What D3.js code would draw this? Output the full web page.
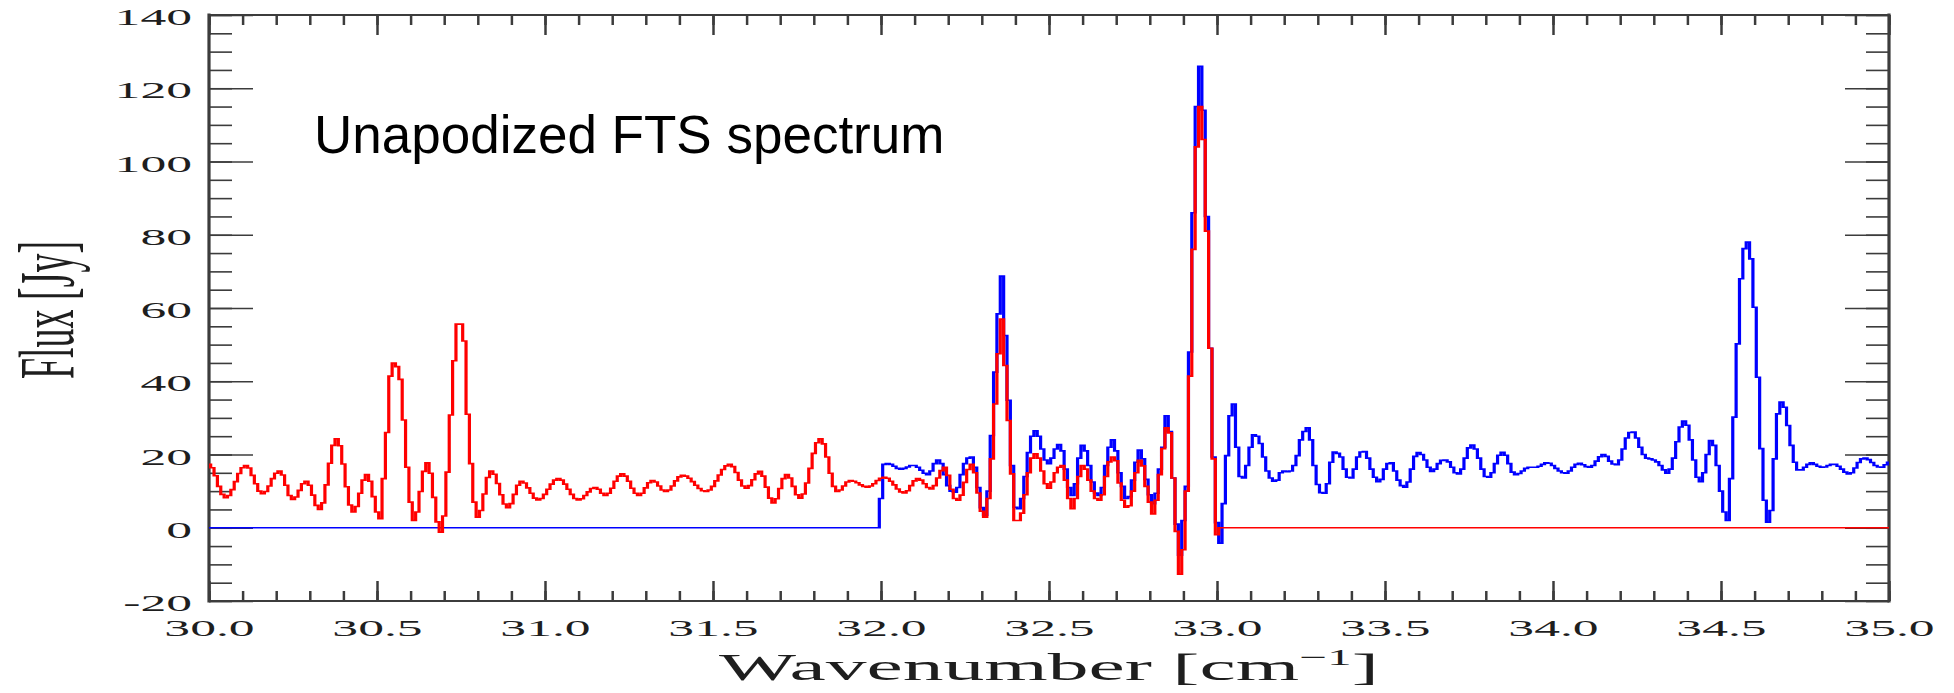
<!DOCTYPE html>
<html><head><meta charset="utf-8">
<script src="https://cdn.jsdelivr.net/npm/d3@7"></script>
<style>html,body{margin:0;padding:0;background:#fff;overflow:hidden} svg{display:block}</style>
</head><body>
<svg id="chart" width="1954" height="693"></svg>
<script>
// ---------------- data ----------------
const STEP = 0.01;                 // cm^-1 sampling of both spectra
const redStart = 30.00;            // first red sample
const redFlux = [
 17.3,16.4,14.2,11.3,9.1,8.2,8.8,10.4,12.6,14.8,
 16.4,17,16.3,14.3,12.0,10.0,9.3,9.9,11.4,13.4,
 14.9,15.5,14.4,11.6,8.8,7.7,8.4,10.2,12.0,12.7,
 11.6,8.9,6.1,5,6.8,11.7,17.6,22.5,24.3,22.4,
 17.4,11.2,6.2,4.3,5.8,9.4,13.0,14.5,12.7,8.5,
 4.3,2.5,13.4,26,41.4,45,44,40.5,29.4,16.5,
 7,2,4.3,9.9,15.4,17.7,14.9,8.3,1.6,-1.2,
 3.2,15.2,30.8,45.6,55.6,55.6,51,31,17.5,7,
 2.9,4.7,9.2,13.7,15.5,14.6,12.1,9.0,6.5,5.5,
 6.6,9.1,11.6,12.7,12.2,10.9,9.4,8.1,7.6,8.0,
 9.1,10.5,11.9,13.0,13.4,13.0,11.9,10.5,9.1,8.0,
 7.6,7.9,8.8,9.8,10.7,11,10.5,9.4,8.8,9.4,
 10.8,12.7,14.1,14.7,14.1,12.7,10.8,9.4,8.8,9.4,
 10.9,12.3,12.9,12.5,11.4,10.3,9.9,10.3,11.4,12.8,
 13.9,14.3,14.1,13.5,12.6,11.6,10.7,10.1,9.9,10.3,
 11.3,12.8,14.4,15.9,16.9,17.3,16.7,15.1,13.0,11.4,
 10.8,11.5,13.1,14.7,15.4,14.1,11.1,8.1,6.8,7.9,
 10.7,13.4,14.5,13.6,11.3,9.0,8.1,9.2,12.2,16.2,
 20.3,23.2,24.3,22.9,19.3,14.9,11.3,9.9,10.3,11.4,
 12.5,12.9,12.7,12.3,11.7,11.3,11.1,11.4,12.0,12.9,
 13.5,13.8,13.5,12.7,11.7,10.6,9.8,9.5,10.1,11.5,
 12.8,13.4,13.0,12.0,11.0,10.6,11.5,13.6,15.6,16.5,
 14.3,10.5,8,7.5,8.9,12.4,15.9,17.3,15,9.5,
 4.5,2.9,8,18.8,33.8,47.5,57,44.3,29.3,14.7,
 2,2,4,9,15,19,20.2,19,15.5,12,
 10.8,12.5,15,16.5,17,13,8,5.2,8,14,
 17,16,13,10,8,7.5,9,14,18,19.3,
 18.3,12.2,7.5,5.6,6,10,15,18.4,16.9,11.3,
 7,3.8,7.5,14.5,21.6,27.3,25.9,13.6,-1,-12.7,
 -6,10,41.4,76,104,115,106,81,49,18.8,
 -1.9
];
const redTail = [[33.01, 0], [35.00, 0]];   // red spectrum is zero beyond its band

const blueStart = 32.00;
const blueFlux = [
 8,17.3,17.5,17.3,16.8,16.2,16,16.2,16.6,17,
 17,16.5,15.7,14.9,14.5,15.5,17.5,18.5,17.5,14.5,
 11.5,10,9.7,11,14.5,17.5,19,19.3,16.5,11,
 5.5,3.4,10,25.2,42.5,58.4,68.7,52.5,34.8,17,
 5.6,5.2,8,14,20.5,25,26.5,25,21.5,18.5,
 17.5,19,21.5,22.7,21,16,11,8.8,12,19,
 22.5,21,17,12.5,9.5,8.8,11,17,22,24,
 21,15,11.3,8,8.5,13,17.9,21.2,18.8,13.2,
 9,6.6,9.4,16,22,30.6,26.3,13.6,1,-7.5,
 2,11.3,48,86,115,126,114,85,49,19.3,
 1.4,-4.2,6.6,19.7,30.6,33.8,22,14,13.6,17,
 22,25.4,25,23,19.3,15.5,13.6,12.7,13,15,
 15.5,15.3,15.5,17,19.7,24,26.3,27.3,24,17,
 11.8,9.6,9.4,12,17.9,20.7,20.3,19.3,16,13.8,
 13.6,16,19.3,20.7,20.8,19,16,13.8,12.6,13.2,
 16,17.5,17.7,15.5,13,11.5,11.1,12.5,16,19.5,
 20.5,20,18.5,16.5,15.4,16,17.5,18.4,18.5,18,
 16.5,15,14.7,16,19,21.8,22.6,21.5,19,16,
 14,13.8,15,17.5,19.8,20.6,19.8,17.5,15.2,14.5,
 14.8,15.5,16.2,16.5,16.5,16.5,16.8,17.3,17.7,17.6,
 17,16.2,15.5,15,14.9,15.5,16.5,17.3,17.6,17.2,
 16.7,16.5,17,18.2,19.4,20,19.5,18.2,17.4,17.2,
 18.5,21.5,24.5,26,26.1,24.5,22,20,19,18.8,
 18.5,18,17,15.8,14.9,16,19,23.5,27.5,29.1,
 28,24,18.5,13.8,12.6,15,20,23.8,22.5,17,
 10,4.3,2,13.4,30.2,50.2,68,76.2,78,73.4,
 60.2,41.1,21.6,7.5,1.5,4.7,18.8,31.1,34.3,32.9,
 27.9,22.5,17.9,15.8,15.8,16.5,17.3,17.7,17.3,16.8,
 16.5,16.6,17,17.3,17.3,16.8,16,15.2,14.7,15,
 16.3,17.8,18.8,19,18.6,17.8,17,16.6,16.5,17.2,
 17.9
];
const blueHead = [[30.00, 0], [31.99, 0]];  // blue spectrum is zero below its band

const xDomain = [30, 35];
const yDomain = [-20, 140];
const xMajorTicks = [30.0, 30.5, 31.0, 31.5, 32.0, 32.5, 33.0, 33.5, 34.0, 34.5, 35.0];
const yMajorTicks = [-20, 0, 20, 40, 60, 80, 100, 120, 140];
const titleText = "Unapodized FTS spectrum";
const xTitle = "Wavenumber [cm";
const yTitle = "Flux [Jy]";

// ---------------- layout ----------------
const L = 209, R = 1889, T = 15, B = 601;
const AX = "#3c3c3c", TXT = "#1e1e1e";
const SERIF = "'Liberation Serif','Times New Roman',serif";
const SX = 2.15;   // horizontal stretch of the serif lettering
const HS = 2.0;    // horizontal stretch of the drawn lines (vertical strokes thicker)

const svg = d3.select("#chart");
const x = d3.scaleLinear().domain(xDomain).range([L, R]);
const y = d3.scaleLinear().domain(yDomain).range([B, T]);

function styleAxis(w) {
  return g => {
    g.select(".domain").remove();
    g.selectAll(".tick line").attr("stroke", AX).attr("stroke-width", w);
    g.attr("font-family", SERIF).attr("font-size", 24);
  };
}

// minor ticks
svg.append("g").attr("transform", `translate(0,${B})`)
  .call(d3.axisBottom(x).ticks(50).tickSize(-10).tickFormat("")).call(styleAxis(2.5));
svg.append("g").attr("transform", `translate(0,${T})`)
  .call(d3.axisTop(x).ticks(50).tickSize(-10).tickFormat("")).call(styleAxis(2.5));
svg.append("g").attr("transform", `translate(${L},0)`)
  .call(d3.axisLeft(y).ticks(32).tickSize(-23).tickFormat("")).call(styleAxis(1.6));
svg.append("g").attr("transform", `translate(${R},0)`)
  .call(d3.axisRight(y).ticks(32).tickSize(-23).tickFormat("")).call(styleAxis(1.6));

// major ticks + labels
const xb = svg.append("g").attr("transform", `translate(0,${B})`)
  .call(d3.axisBottom(x).tickValues(xMajorTicks).tickSize(-20).tickFormat(d => d.toFixed(1)))
  .call(styleAxis(2.5));
xb.selectAll(".tick text").attr("y", 0).attr("dy", 0).attr("fill", TXT)
  .attr("transform", `translate(0,35) scale(${SX},1)`);
svg.append("g").attr("transform", `translate(0,${T})`)
  .call(d3.axisTop(x).tickValues(xMajorTicks).tickSize(-20).tickFormat("")).call(styleAxis(2.5));
const yl = svg.append("g").attr("transform", `translate(${L},0)`)
  .call(d3.axisLeft(y).tickValues(yMajorTicks).tickSize(-44).tickFormat(d => String(d)))
  .call(styleAxis(1.6));
yl.selectAll(".tick text").attr("x", 0).attr("dy", 0).attr("fill", TXT)
  .attr("transform", `translate(-17,9.5) scale(${SX},1)`);
svg.append("g").attr("transform", `translate(${R},0)`)
  .call(d3.axisRight(y).tickValues(yMajorTicks).tickSize(-44).tickFormat("")).call(styleAxis(1.6));

// frame: vertical sides heavier than horizontal ones
const frame = svg.append("g").attr("stroke", AX).attr("stroke-linecap", "square");
frame.append("line").attr("x1", L).attr("x2", R).attr("y1", T).attr("y2", T).attr("stroke-width", 2);
frame.append("line").attr("x1", L).attr("x2", R).attr("y1", B).attr("y2", B).attr("stroke-width", 2);
frame.append("line").attr("x1", L).attr("x2", L).attr("y1", T).attr("y2", B).attr("stroke-width", 3.2);
frame.append("line").attr("x1", R).attr("x2", R).attr("y1", T).attr("y2", B).attr("stroke-width", 3.2);

// spectra (drawn in a horizontally stretched frame, like the original)
const line = d3.line().x(d => x(d[0]) / HS).y(d => y(d[1])).curve(d3.curveStep);
const bluePts = blueHead.concat(blueFlux.map((v, i) => [blueStart + i * STEP, v]));
const redPts = redFlux.map((v, i) => [redStart + i * STEP, v]).concat(redTail);
const plot = svg.append("g").attr("transform", `scale(${HS},1)`);
plot.append("path").datum(bluePts).attr("d", line)
  .attr("fill", "none").attr("stroke", "#0000ff").attr("stroke-width", 1.6);
plot.append("path").datum(redPts).attr("d", line)
  .attr("fill", "none").attr("stroke", "#ff0000").attr("stroke-width", 1.6);

// in-plot title
svg.append("text").attr("x", 314).attr("y", 153)
  .attr("font-family", "'Liberation Sans',Arial,sans-serif").attr("font-size", 53)
  .attr("fill", "#000").text(titleText);

// x axis title
const xtG = svg.append("g").attr("transform", `translate(${(L + R) / 2},680)`);
const xt = xtG.append("text").attr("text-anchor", "middle")
  .attr("font-family", SERIF).attr("font-size", 38).attr("fill", TXT);
xt.append("tspan").text(xTitle);
xt.append("tspan").attr("font-size", 23).attr("dy", -15).text("\u22121");
xt.append("tspan").attr("dy", 15).text("]");
const bw = xt.node().getBBox().width;
xt.attr("transform", `scale(${660 / bw},1)`);

// y axis title
svg.append("text").attr("text-anchor", "middle")
  .attr("transform", `translate(73,310) scale(2.05,1) rotate(-90)`)
  .attr("font-family", SERIF).attr("font-size", 38).attr("fill", TXT).text(yTitle);
</script>
</body></html>
